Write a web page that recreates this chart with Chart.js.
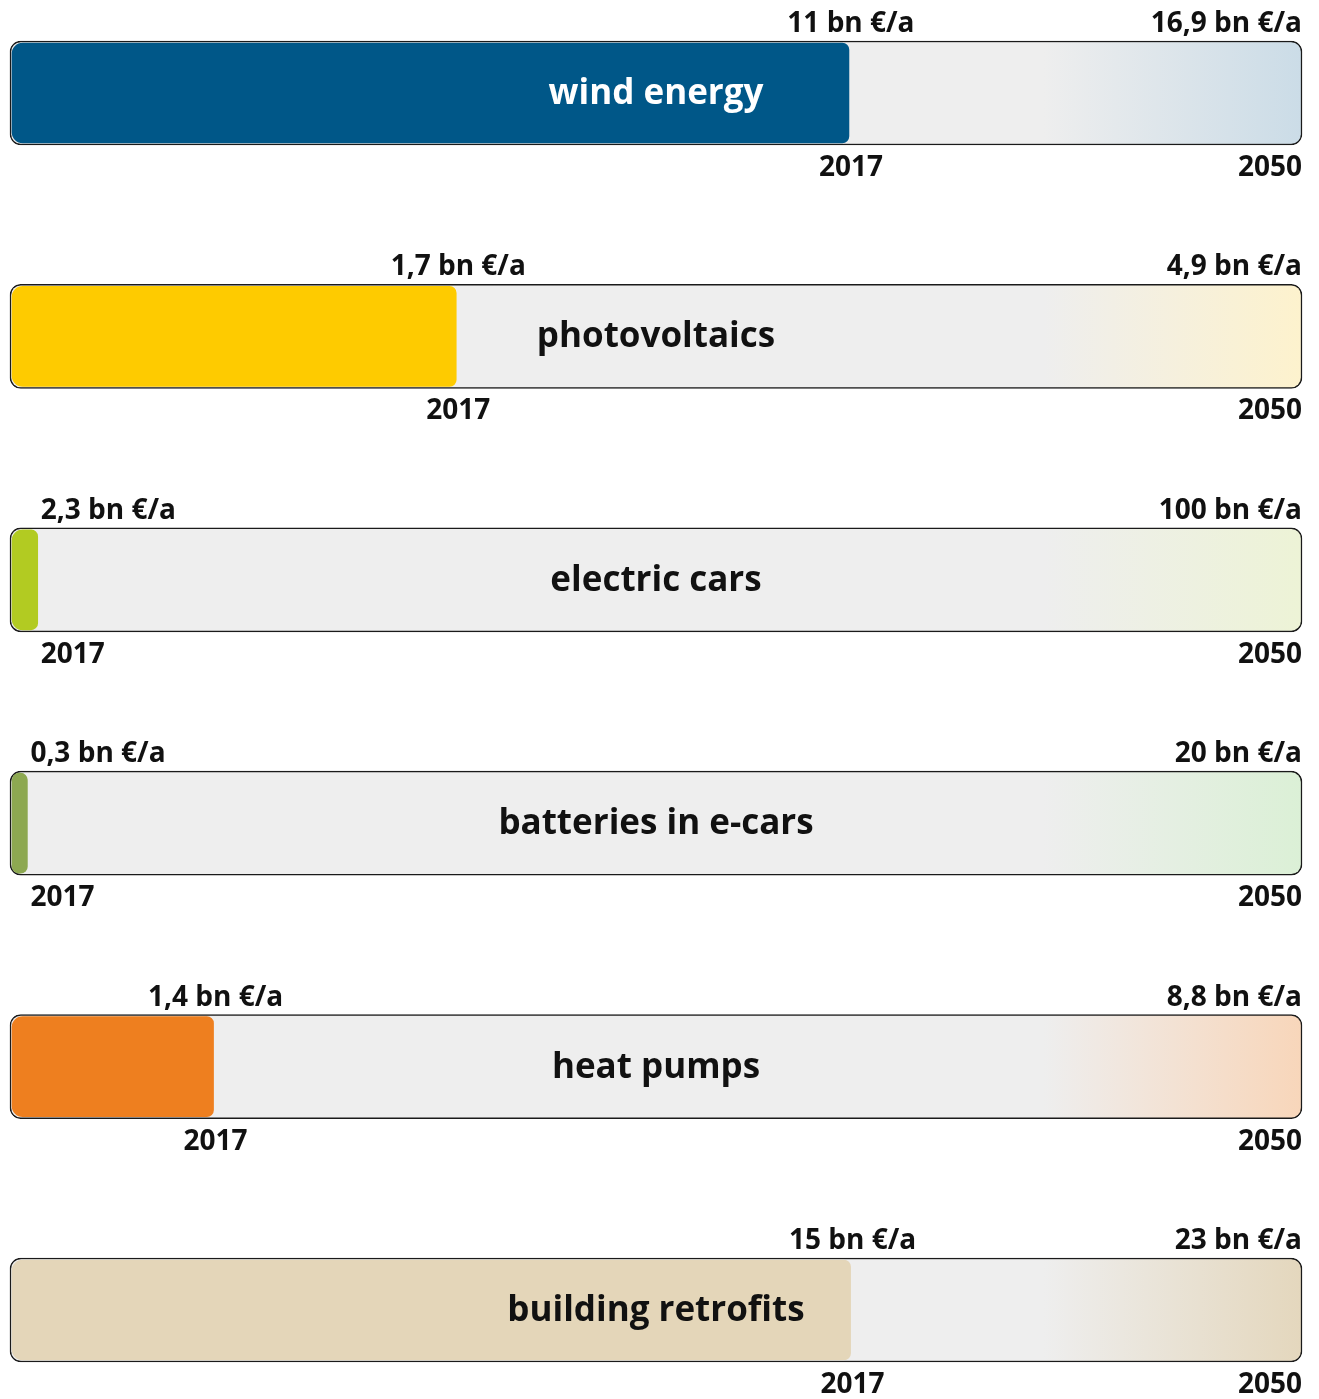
<!DOCTYPE html>
<html>
<head>
<meta charset="utf-8">
<script src="https://cdn.jsdelivr.net/npm/chart.js@4/dist/chart.umd.min.js"></script>
<style>
html,body{margin:0;padding:0;background:#fff;}
#wrap{width:1319px;height:1399px;}
</style>
</head>
<body>
<div id="wrap"><canvas id="c" width="1319" height="1399"></canvas></div>
<script>
// ---- data ----
const categories = ['wind energy', 'photovoltaics', 'electric cars', 'batteries in e-cars', 'heat pumps', 'building retrofits'];
const values2017 = [11, 1.7, 2.3, 0.3, 1.4, 15];      // bn €/a
const values2050 = [16.9, 4.9, 100, 20, 8.8, 23];     // bn €/a
const yearLabels = ['2017', '2050'];
const unit = 'bn €/a';

// ---- styles ----
const barColors = ['#005788', '#fecb00', '#b2cb22', '#8da851', '#ee7f1f', '#e4d6b9'];
const tintColors = ['#cbdce7', '#fdf2cd', '#edf3d6', '#dbf0d6', '#f8d6ba', '#e4d7bd'];
const nameColors = ['#ffffff', '#111111', '#111111', '#111111', '#111111', '#111111'];
const FONT = "'Open Sans', 'Noto Sans', sans-serif";

const share2017 = values2017.map((v, i) => v / values2050[i]);
const full2050 = values2050.map(() => 1);

function fmt(v) { return String(v).replace('.', ',') + ' ' + unit; }

const labelPlugin = {
  id: 'labels',
  afterDatasetsDraw(chart) {
    const ctx = chart.ctx;
    const area = chart.chartArea;
    const bgMeta = chart.getDatasetMeta(1);
    const fgMeta = chart.getDatasetMeta(0);
    ctx.save();
    categories.forEach((name, i) => {
      const bg = bgMeta.data[i];
      const fg = fgMeta.data[i];
      const top = bg.y - bg.height / 2;
      const bottom = bg.y + bg.height / 2;
      const left = bg.base;
      const right = bg.x;
      const endX = fg.x;
      // category name
      ctx.font = `700 35px ${FONT}`;
      ctx.fillStyle = nameColors[i];
      ctx.textAlign = 'center';
      ctx.textBaseline = 'middle';
      ctx.fillText(name, (left + right) / 2, bg.y + 1);
      // values and years
      ctx.font = `700 28px ${FONT}`;
      ctx.fillStyle = '#111111';
      ctx.textBaseline = 'alphabetic';
      // 2050 (right aligned)
      ctx.textAlign = 'right';
      ctx.fillText(fmt(values2050[i]), right, top - 9);
      ctx.fillText(yearLabels[1], right, bottom + 31);
      // 2017 (centered on bar end, or left-aligned if it would overflow)
      const t1 = fmt(values2017[i]);
      const w1 = ctx.measureText(t1).width;
      if (endX - w1 / 2 < area.left) {
        ctx.textAlign = 'left';
        ctx.fillText(t1, endX + 1, top - 9);
        ctx.fillText(yearLabels[0], endX + 1, bottom + 31);
      } else {
        ctx.textAlign = 'center';
        ctx.fillText(t1, endX, top - 9);
        ctx.fillText(yearLabels[0], endX, bottom + 31);
      }
    });
    ctx.restore();
  }
};

new Chart(document.getElementById('c'), {
  type: 'bar',
  data: {
    labels: categories,
    datasets: [
      {
        label: '2017',
        data: share2017,
        order: 0,
        backgroundColor: barColors,
        borderColor: 'rgba(0,0,0,0)',
        borderWidth: 2,
        borderSkipped: false,
        borderRadius: { topLeft: 13, bottomLeft: 13, topRight: 9, bottomRight: 9 },
        barThickness: 104,
        grouped: false
      },
      {
        label: '2050',
        data: full2050,
        order: 1,
        backgroundColor: (c) => {
          const chart = c.chart;
          const a = chart.chartArea;
          if (!a) return '#eeeeee';
          const g = chart.ctx.createLinearGradient(a.left, 0, a.right, 0);
          g.addColorStop(0, '#eeeeee');
          g.addColorStop(0.8, '#eeeeee');
          g.addColorStop(1, tintColors[c.dataIndex]);
          return g;
        },
        borderColor: '#1a1a1a',
        borderWidth: 1.5,
        borderSkipped: false,
        borderRadius: 11,
        barThickness: 104,
        grouped: false
      }
    ]
  },
  options: {
    indexAxis: 'y',
    responsive: false,
    animation: false,
    layout: { padding: { left: 10, right: 17, top: 93, bottom: 89 } },
    scales: {
      x: { display: false, min: 0, max: 1 },
      y: { display: false, offset: false }
    },
    plugins: {
      legend: { display: false },
      tooltip: { enabled: false }
    },
    clip: false
  },
  plugins: [labelPlugin]
});
</script>
</body>
</html>
